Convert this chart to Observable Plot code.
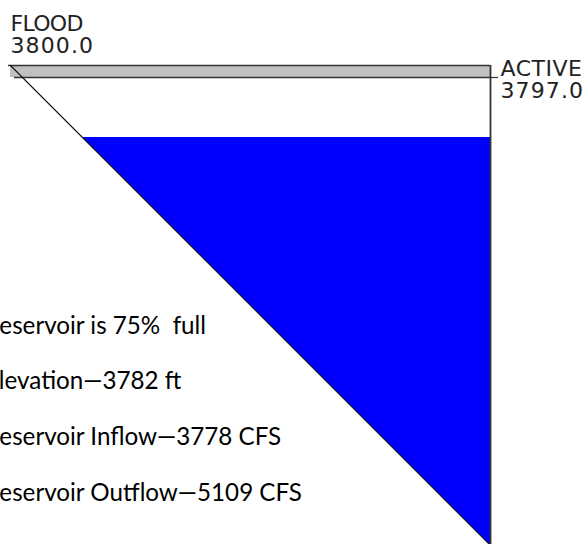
<!DOCTYPE html>
<html>
<head>
<meta charset="utf-8">
<script src="https://cdn.jsdelivr.net/npm/d3@7"></script>
<script src="https://cdn.jsdelivr.net/npm/@observablehq/plot@0.6"></script>
<style>
  html, body { margin: 0; padding: 0; background: #fff; }
  svg text { white-space: pre; }
</style>
</head>
<body>
<div id="chart"></div>
<script>
// ---- data ----
const levelNames = ["FLOOD", "ACTIVE"];
const levelElevations = [3800.0, 3797.0];
const bottomElevation = 3680;      // estimated bottom of the pool (triangle apex)
const currentElevation = 3782;
const percentFull = 75;
const inflowCFS = 3778;
const outflowCFS = 5109;
const statLines = [
  `Reservoir is ${percentFull}%  full`,
  `Elevation\u2014${currentElevation} ft`,
  `Reservoir Inflow\u2014${inflowCFS} CFS`,
  `Reservoir Outflow\u2014${outflowCFS} CFS`
];

// width of the pool (from the dam wall) at an elevation
const poolWidth = e => e - bottomElevation;
const floodElev = levelElevations[0];
const activeElev = levelElevations[1];

const chart = Plot.plot({
  width: 587,
  height: 544,
  margin: 0,
  x: { domain: [poolWidth(floodElev), 0], range: [10, 490], axis: null },
  y: { domain: [bottomElevation, floodElev], range: [545, 65], axis: null },
  marks: [
    // water
    Plot.areaX([bottomElevation, currentElevation], {
      y: d => d, x1: d => poolWidth(d), x2: 0, fill: "#0000ff"
    }),
    // flood band
    Plot.rect([{}], {
      x1: poolWidth(floodElev), x2: 0, y1: activeElev, y2: floodElev, fill: "#c0c0c0"
    }),
    Plot.ruleY([floodElev], { x1: poolWidth(floodElev) + 0.5, x2: 0, stroke: "#333", strokeWidth: 1.6 }),
    Plot.ruleY([activeElev], { x1: poolWidth(floodElev) - 1, x2: 0, stroke: "#333", strokeWidth: 1.6 }),
    // sloping bank
    Plot.line([floodElev, bottomElevation], {
      x: d => poolWidth(d), y: d => d, stroke: "#111", strokeWidth: 1.1
    }),
    // dam wall
    Plot.ruleX([0], { y1: bottomElevation, y2: floodElev, stroke: "#333", strokeWidth: 1.8 }),
    // ACTIVE leader
    Plot.ruleY([activeElev], { x1: 0, x2: -2, stroke: "#333", strokeWidth: 1.2 }),
    // level labels
    Plot.text([0], {
      x: poolWidth(floodElev), y: floodElev,
      text: () => `${levelNames[0]}\n${floodElev.toFixed(1)}`,
      textAnchor: "start", lineAnchor: "bottom", dy: -13, lineHeight: 1.0,
      fontFamily: "DejaVu Sans", fontSize: 22, fill: "#222"
    }),
    Plot.text([0], {
      x: 0, y: activeElev,
      text: () => `${levelNames[1]}\n${activeElev.toFixed(1)}`,
      textAnchor: "start", lineAnchor: "bottom", dx: 10, dy: 20, lineHeight: 1.0,
      fontFamily: "DejaVu Sans", fontSize: 22, fill: "#222"
    }),
    // statistics
    Plot.text([statLines.join("\n")], {
      frameAnchor: "bottom-left", textAnchor: "start", lineAnchor: "bottom",
      dx: -15.5, dy: -44, lineHeight: 55.6 / 24.2,
      fontFamily: "Lato", fontSize: 24.2, fill: "#000"
    })
  ]
});
document.getElementById("chart").appendChild(chart);

// narrow pixel-font look: tighten words, widen numbers of the level labels
d3.select(chart).selectAll("tspan").each(function () {
  const t = this.textContent;
  if (t === levelNames[0]) this.setAttribute("letter-spacing", "-0.7");
  else if (t === levelNames[1]) this.setAttribute("letter-spacing", "0.5");
  else if (/^\d+\.\d$/.test(t)) this.setAttribute("letter-spacing", "1.1");
});
</script>
</body>
</html>
